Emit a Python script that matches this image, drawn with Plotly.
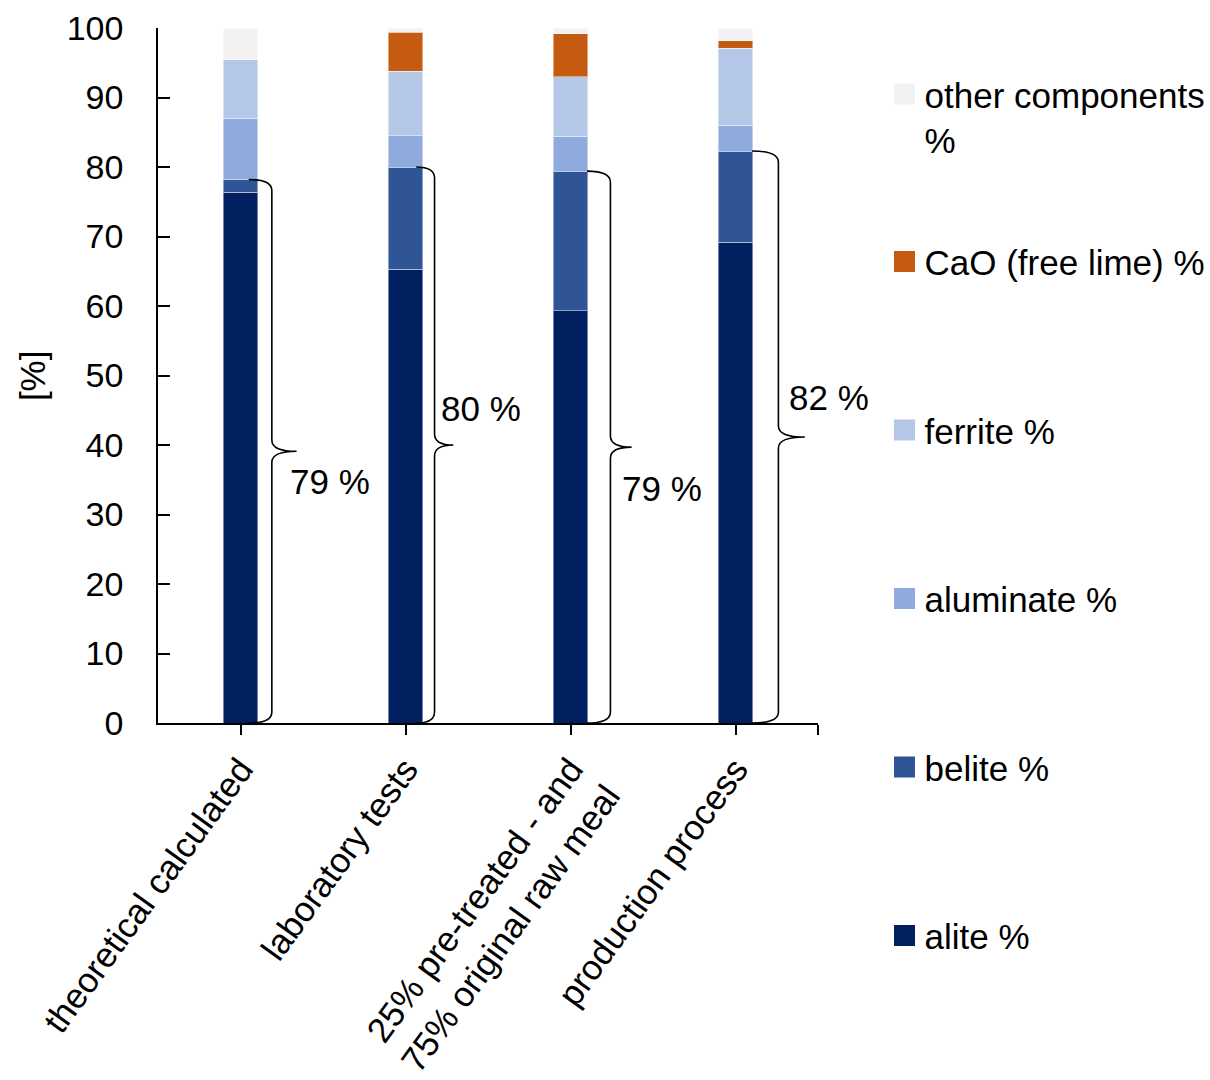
import plotly.graph_objects as go

# ---------------- data ----------------
categories = [
    "theoretical calculated",
    "laboratory tests",
    "25% pre-treated - and<br>75% original raw meal",
    "production process",
]
alite = [76.4, 65.3, 59.3, 69.2]
belite = [1.8, 14.7, 20.1, 13.1]
aluminate = [8.8, 4.5, 5.0, 3.7]
ferrite = [8.4, 9.3, 8.6, 11.1]
cao = [0.0, 5.6, 6.2, 1.1]
other = [4.6, 0.6, 0.8, 1.8]
brace_labels = ["79 %", "80 %", "79 %", "82 %"]
y_ticks = [0, 10, 20, 30, 40, 50, 60, 70, 80, 90, 100]

series_names = ["alite %", "belite %", "aluminate %", "ferrite %",
                "CaO (free lime) %", "other components %"]
series_values = [alite, belite, aluminate, ferrite, cao, other]

# ---------------- styles ----------------
colors = ["#002060", "#2F5597", "#8FAADC", "#B4C7E7", "#C55A11", "#F2F2F2"]
FONT = "Liberation Sans, Arial, sans-serif"
FS = 35
xpos = list(range(len(categories)))
# brace geometry (offsets from bar centre, x units)
brace_hook = [0.05, 0.065, 0.10, 0.10]
brace_vert = [0.19, 0.176, 0.242, 0.26]
brace_tip = [0.34, 0.29, 0.37, 0.42]
label_dx = [0.285, 0.206, 0.297, 0.31]
label_y = [34.7, 45.2, 33.7, 46.8]

fig = go.Figure()

for name, vals, col in zip(series_names, series_values, colors):
    fig.add_trace(go.Bar(
        x=xpos, y=vals, name=name, width=0.21,
        marker=dict(color=col, line=dict(color="rgba(255,255,255,0.45)", width=1)),
        showlegend=False,
    ))

# legend entries (larger square symbols)
legend_order = [5, 4, 3, 2, 1, 0]
for i in legend_order:
    name = series_names[i]
    lab = "other components<br>%" if i == 5 else name
    fig.add_trace(go.Scatter(
        x=[None], y=[None], mode="markers", name=lab,
        marker=dict(symbol="square", size=16, color=colors[i],
                    line=dict(color=colors[i], width=5)),
        legend="legend" if i == 5 else "legend2",
        legendgroup=name, showlegend=True,
    ))

# curly braces + labels
shapes = []
annotations = []
for i, x in enumerate(xpos):
    top = alite[i] + belite[i]
    mid = top / 2
    x0 = x + brace_hook[i]
    xv = x + brace_vert[i]
    xt = x + brace_tip[i]
    r = 1.6
    path = (f"M {x0},{top} Q {xv},{top} {xv},{top - r} "
            f"L {xv},{mid + r} Q {xv},{mid} {xt},{mid} "
            f"Q {xv},{mid} {xv},{mid - r} "
            f"L {xv},{r} Q {xv},0 {x0},0")
    shapes.append(dict(type="path", path=path, xref="x", yref="y",
                       line=dict(color="black", width=1.6)))
    annotations.append(dict(x=x + label_dx[i], y=label_y[i], xref="x", yref="y",
                            text=brace_labels[i], showarrow=False,
                            xanchor="left", yanchor="middle",
                            font=dict(family=FONT, size=FS, color="black")))

annotations.append(dict(x=-0.19, y=0.5, xref="paper", yref="paper",
                        text="[%]", textangle=-90, showarrow=False,
                        xanchor="center", yanchor="middle",
                        font=dict(family=FONT, size=FS, color="black")))

fig.update_layout(
    barmode="stack",
    width=1210, height=1080,
    margin=dict(l=158, r=392, t=28, b=357, autoexpand=False),
    plot_bgcolor="white", paper_bgcolor="white",
    font=dict(family=FONT, size=FS, color="black"),
    shapes=shapes,
    annotations=annotations,
    xaxis=dict(
        range=[-0.5, 3.5], tickmode="array",
        tickvals=xpos + [3.5], ticktext=categories + [""],
        tickangle=-54, ticks="outside", ticklen=10, tickwidth=1.5, tickcolor="black",
        showline=True, linecolor="black", linewidth=1.5,
        showgrid=False, zeroline=False, automargin=False,
        tickfont=dict(family=FONT, size=FS, color="black"),
    ),
    yaxis=dict(
        range=[0, 100], tickmode="array", tickvals=y_ticks,
        ticks="inside", ticklen=12, tickwidth=1.5, tickcolor="black",
        showline=True, linecolor="black", linewidth=1.5,
        showgrid=False, zeroline=False, automargin=False,
        ticklabelstandoff=26,
        tickfont=dict(family=FONT, size=34, color="black"),
    ),
    legend=dict(
        xref="container", yref="container", x=0.731, y=0.94,
        xanchor="left", yanchor="top", valign="top",
        font=dict(family=FONT, size=FS, color="black"),
        bgcolor="rgba(0,0,0,0)", itemsizing="trace",
    ),
    legend2=dict(
        xref="container", yref="container", x=0.731, y=0.785,
        xanchor="left", yanchor="top", traceorder="grouped",
        tracegroupgap=120, maxheight=1000,
        font=dict(family=FONT, size=FS, color="black"),
        bgcolor="rgba(0,0,0,0)", itemsizing="trace",
    ),
)

fig.write_html("out.html")
